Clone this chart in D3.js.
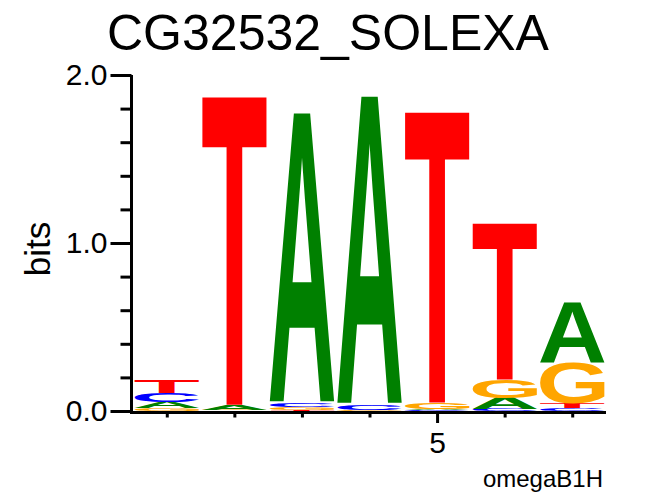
<!DOCTYPE html>
<html>
<head>
<meta charset="utf-8">
<script src="https://cdn.jsdelivr.net/npm/d3@7"></script>
<style>
  html, body { margin: 0; padding: 0; background: #fff; }
  svg { display: block; }
  text { font-family: "Liberation Sans", Arial, Helvetica, sans-serif; }
</style>
</head>
<body>
<script>
// ---- data ----
const positions = [1, 2, 3, 4, 5, 6, 7];
const bases = ["A", "C", "G", "T"];
const bitsA = [0.039, 0.030, 1.730, 1.840, 0.005, 0.065, 0.363];
const bitsC = [0.054, 0.003, 0.025, 0.030, 0.004, 0.012, 0.015];
const bitsG = [0.015, 0.004, 0.018, 0.004, 0.042, 0.107, 0.244];
const bitsT = [0.077, 1.835, 0.003, 0.002, 1.730, 0.930, 0.030];
const baseColors = ["#008000", "#0000ff", "#ffa500", "#ff0000"];
const yMajorTicks = [0, 1, 2];
const yMajorLabels = ["0.0", "1.0", "2.0"];
const yMinorTicks = [0.2, 0.4, 0.6, 0.8, 1.2, 1.4, 1.6, 1.8];
const xLabelledTicks = [5];
const titleText = "CG32532_SOLEXA";
const yTitle = "bits";
const footnote = "omegaB1H";

const W = 654, H = 496;
const svg = d3.select("body").append("svg").attr("width", W).attr("height", H);

const x = d3.scaleLinear().domain([0.5, 7.5]).range([133, 606]);
const y = d3.scaleLinear().domain([0, 2]).range([411, 75]);
const color = d3.scaleOrdinal().domain(bases).range(baseColors);
const series = { A: bitsA, C: bitsC, G: bitsG, T: bitsT };

// glyph ink bounds by scanning a canvas rendering
const FS = 200;
const FONT = "bold " + FS + "px 'Liberation Sans', Arial, sans-serif";
const CW = 500, CH = 400, BX = 100, BY = 300;
const cv = document.createElement("canvas");
cv.width = CW; cv.height = CH;
const ctx = cv.getContext("2d", { willReadFrequently: true });
const metrics = {};
bases.forEach(b => {
  ctx.clearRect(0, 0, CW, CH);
  ctx.font = FONT;
  ctx.fillStyle = "#000";
  ctx.textBaseline = "alphabetic";
  ctx.fillText(b, BX, BY);
  const data = ctx.getImageData(0, 0, CW, CH).data;
  let minX = CW, maxX = -1, minY = CH, maxY = -1;
  for (let yy = 0; yy < CH; yy++) {
    for (let xx = 0; xx < CW; xx++) {
      if (data[(yy * CW + xx) * 4 + 3] > 100) {
        if (xx < minX) minX = xx; if (xx > maxX) maxX = xx;
        if (yy < minY) minY = yy; if (yy > maxY) maxY = yy;
      }
    }
  }
  metrics[b] = { l: BX - minX, r: maxX + 1 - BX, a: BY - minY, d: maxY + 1 - BY };
});

const colW = (x(2) - x(1)) * 0.95;
const logo = svg.append("g");
positions.forEach((p, i) => {
  const stack = bases.map(b => ({ b, v: series[b][i] })).sort((a, c) => a.v - c.v);
  let acc = 0;
  stack.forEach(s => {
    const y1 = y(acc), y0 = y(acc + s.v);
    acc += s.v;
    const h = y1 - y0;
    if (h <= 0) return;
    const m = metrics[s.b];
    const sx = colW / (m.l + m.r), sy = h / (m.a + m.d);
    const x0 = x(p) - colW / 2;
    logo.append("text")
      .attr("transform", `translate(${x0},${y0}) scale(${sx},${sy}) translate(${m.l},${m.a})`)
      .style("font", FONT)
      .attr("fill", color(s.b))
      .text(s.b);
  });
});

// y axis
const yAxisMajor = d3.axisLeft(y).tickValues(yMajorTicks)
  .tickFormat((d, i) => yMajorLabels[i]).tickSize(21).tickPadding(3).tickSizeOuter(0);
const yAxisMinor = d3.axisLeft(y).tickValues(yMinorTicks).tickFormat("").tickSize(11).tickSizeOuter(0);
const gy = svg.append("g").attr("transform", "translate(131.5,0)");
gy.append("g").call(yAxisMinor);
gy.append("g").call(yAxisMajor);
gy.selectAll("path.domain").remove();
gy.selectAll("line").attr("stroke", "#000").attr("stroke-width", 3);
gy.selectAll("text").attr("font-size", 30).attr("fill", "#000")
  .style("font-family", "'Liberation Sans', Arial, sans-serif");
svg.append("line").attr("x1", 131.5).attr("x2", 131.5).attr("y1", y(2)).attr("y2", 414)
  .attr("stroke", "#000").attr("stroke-width", 3);

// x axis
const xAxisMinor = d3.axisBottom(x).tickValues(positions.filter(p => !xLabelledTicks.includes(p)))
  .tickFormat("").tickSize(5).tickSizeOuter(0);
const xAxisMajor = d3.axisBottom(x).tickValues(xLabelledTicks)
  .tickFormat(d3.format("d")).tickSize(10.5).tickPadding(9).tickSizeOuter(0);
const gx = svg.append("g").attr("transform", "translate(0,412.5)");
gx.append("g").call(xAxisMinor);
gx.append("g").call(xAxisMajor);
gx.selectAll("path.domain").remove();
gx.selectAll("line").attr("stroke", "#000").attr("stroke-width", 3);
gx.selectAll("text").attr("font-size", 30).attr("fill", "#000")
  .style("font-family", "'Liberation Sans', Arial, sans-serif");
svg.append("line").attr("x1", 130).attr("x2", x(7.5)).attr("y1", 412.5).attr("y2", 412.5)
  .attr("stroke", "#000").attr("stroke-width", 3);

// titles
svg.append("text").attr("x", 328).attr("y", 50).attr("text-anchor", "middle")
  .attr("font-size", 50).attr("fill", "#000").text(titleText);
svg.append("text").attr("transform", "translate(50,249) rotate(-90)")
  .attr("text-anchor", "middle").attr("font-size", 35).attr("fill", "#000").text(yTitle);
svg.append("text").attr("x", 603).attr("y", 487).attr("text-anchor", "end")
  .attr("font-size", 24).attr("fill", "#000").text(footnote);
</script>
</body>
</html>
